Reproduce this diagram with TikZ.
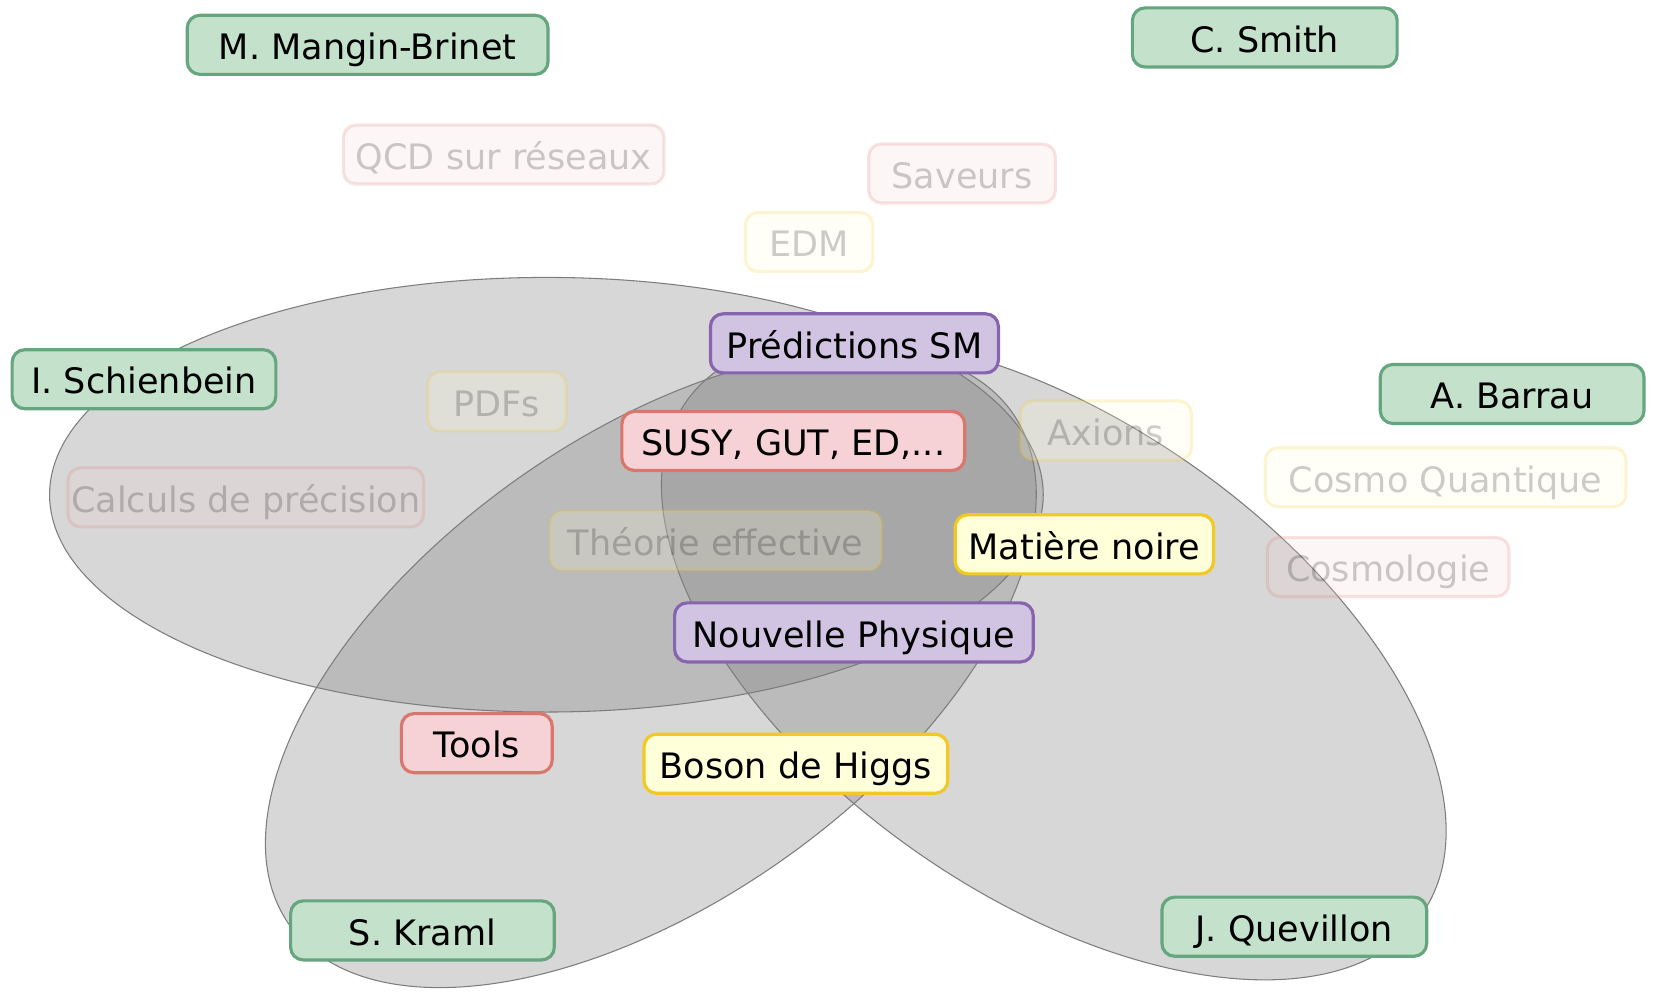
\documentclass[tikz,border=0pt]{standalone}
\usepackage{fontspec}
\setmainfont{DejaVu Sans}
\definecolor{grfill}{RGB}{195,225,203}
\definecolor{grline}{RGB}{102,166,126}
\definecolor{pufill}{RGB}{208,196,226}
\definecolor{puline}{RGB}{134,101,174}
\definecolor{refill}{RGB}{246,209,213}
\definecolor{reline}{RGB}{217,118,110}
\definecolor{yefill}{RGB}{255,255,218}
\definecolor{yeline}{RGB}{242,201,36}
\definecolor{zonefill}{RGB}{122,122,122}
\definecolor{zoneline}{RGB}{125,125,125}
\begin{document}
\begin{tikzpicture}[x=1pt,y=-1pt,
  topic/.style={rounded corners=12pt, line width=3pt, minimum height=56pt,
    inner sep=0pt, text height=30pt, text depth=2pt, text=black,
    font=\fontsize{33.2}{39}\selectfont},
  personbox/.style={topic, fill=grfill, draw=grline},
  themebox/.style={topic, fill=pufill, draw=puline},
  modelbox/.style={topic, fill=refill, draw=reline},
  probebox/.style={topic, fill=yefill, draw=yeline},
  faint/.style={opacity=0.2, text opacity=0.2},
  zone/.style={fill=zonefill, fill opacity=0.3, draw=zoneline, line width=1pt}
]
\useasboundingbox (0,0) rectangle (1568,950);

% the three overlapping domains
\draw[zone] (518,469) ellipse [x radius=471, y radius=206];
\draw[zone, rotate around={35.4:(617,634)}] (617,634) ellipse [x radius=420, y radius=220];
\draw[zone, rotate around={-34.8:(999,624)}] (999,624) ellipse [x radius=425, y radius=225];

% people
\node[personbox, minimum width=342pt] (mangin) at (348.5,42.5) {M. Mangin-Brinet};
\node[personbox, minimum width=251pt] (smith) at (1199,35.5) {C. Smith};
\node[personbox, minimum width=250pt] (schienbein) at (136.5,359.5) {I. Schienbein};
\node[personbox, minimum width=250pt] (barrau) at (1433.5,373.5) {A. Barrau};
\node[personbox, minimum width=250pt] (kraml) at (400.5,882) {S. Kraml};
\node[personbox, minimum width=251pt] (quevillon) at (1227,878.5) {J. Quevillon};

% faint topics
\node[modelbox, faint, minimum width=304pt] (qcd) at (477.5,146.5) {QCD sur réseaux};
\node[modelbox, faint, minimum width=177pt] (saveurs) at (912,164.5) {Saveurs};
\node[probebox, faint, minimum width=121pt] (edm) at (767,229.5) {EDM};
\node[probebox, faint, minimum width=131pt] (pdfs) at (471,380.5) {PDFs};
\node[modelbox, faint, minimum width=337pt] (calculs) at (233,471.5) {Calculs de précision};
\node[probebox, faint, minimum width=314pt] (theorie) at (678.5,512.5) {Théorie effective};
\node[probebox, faint, minimum width=162pt] (axions) at (1048.5,408) {Axions};
\node[probebox, faint, minimum width=342pt] (cosmoq) at (1370.5,452.5) {Cosmo Quantique};
\node[modelbox, faint, minimum width=229pt] (cosmologie) at (1316,537.5) {Cosmologie};

% main topics
\node[themebox, minimum width=273pt] (predsm) at (810,325.5) {Prédictions SM};
\node[themebox, minimum width=340pt] (nouvelle) at (809.5,599.5) {Nouvelle Physique};
\node[modelbox, minimum width=325pt] (susy) at (752,418) {SUSY, GUT, ED,...};
\node[modelbox, minimum width=143pt] (tools) at (452,704.5) {Tools};
\node[probebox, minimum width=245pt] (matiere) at (1028,516) {Matière noire};
\node[probebox, minimum width=288pt] (higgs) at (754.5,724) {Boson de Higgs};
\end{tikzpicture}
\end{document}
